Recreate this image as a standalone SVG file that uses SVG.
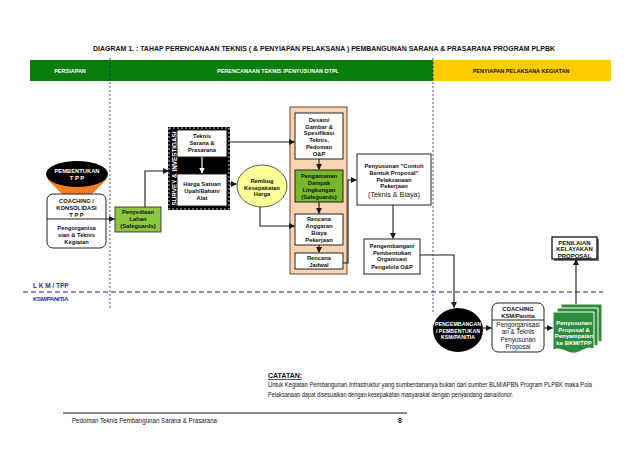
<svg xmlns="http://www.w3.org/2000/svg" width="638" height="452" viewBox="0 0 638 452">
<defs>
<marker id="ah" markerWidth="6" markerHeight="6" refX="5.5" refY="3" orient="auto" markerUnits="userSpaceOnUse"><path d="M0,0 L6,3 L0,6 z" fill="#1a1a1a"/></marker>
<marker id="ahw" markerWidth="6" markerHeight="6" refX="5.5" refY="3" orient="auto" markerUnits="userSpaceOnUse"><path d="M0,0 L6,3 L0,6 z" fill="#fff"/></marker>
</defs>
<style>
text{font-family:"Liberation Sans",Arial,sans-serif;fill:#111}
.b{font-weight:bold}
.c{text-anchor:middle}
.s6{font-size:5.8px}
.s65{font-size:6.5px}
.w{fill:#fff}
.box{fill:#fff;stroke:#222;stroke-width:1}
.ln{fill:none;stroke:#1a1a1a;stroke-width:1.1;marker-end:url(#ah)}
.dv{fill:none;stroke:#1c1c8c;stroke-width:0.8;stroke-dasharray:2 2}
.lane{fill:#2233a0}
.doc{fill:#2e8b3c;stroke:#fff;stroke-width:1}
</style>
<rect width="638" height="452" fill="#fff"/>

<text x="93" y="51" class="b" font-size="8" textLength="462" lengthAdjust="spacingAndGlyphs">DIAGRAM 1. : TAHAP PERENCANAAN TEKNIS ( &amp; PENYIAPAN PELAKSANA ) PEMBANGUNAN SARANA &amp; PRASARANA PROGRAM PLPBK</text>

<g id="header">
<rect x="30" y="60" width="80" height="21" fill="#0a7d0f"/>
<rect x="110" y="60" width="323" height="21" fill="#0a7d0f"/>
<rect x="433" y="60" width="178" height="21" fill="#ffcc00"/>
<text x="70" y="72.5" class="b c w" font-size="5.5">PERSIAPAN</text>
<text x="278" y="72.5" class="b c w" font-size="5.5">PERENCANAAN TEKNIS /PENYUSUNAN DTPL</text>
<text x="521" y="72.5" class="b c" font-size="5.5">PENYIAPAN PELAKSANA KEGIATAN</text>
</g>

<g id="lanes">
<line x1="110" y1="58" x2="110" y2="308" class="dv"/>
<line x1="433" y1="58" x2="433" y2="312" class="dv"/>
<line x1="23" y1="292" x2="603" y2="292" fill="none" stroke="#1c1c8c" stroke-width="1" stroke-dasharray="5 3"/>
<text x="33" y="288" class="b lane" font-size="6.5">L K M / TPP</text>
<text x="33" y="301" class="b lane" font-size="6" letter-spacing="-0.3">KSM/PANITIA</text>
</g>

<g id="pembentukan">
<polygon points="47,179 107,179 89,197 65,197" fill="#f47b20"/>
<ellipse cx="77" cy="174" rx="31" ry="13" fill="#000"/>
<text x="77" y="173" class="b c w s6">PEMBENTUKAN</text>
<text x="77" y="180" class="b c w s6">T P P</text>
</g>

<g id="coaching-tpp">
<rect x="47" y="194" width="59" height="54" rx="6" class="box"/>
<line x1="47" y1="219" x2="106" y2="219" stroke="#222" stroke-width="1"/>
<text x="76.5" y="203" class="b c s6">COACHING /</text>
<text x="76.5" y="210" class="b c s6">KONSOLIDASI</text>
<text x="76.5" y="216.5" class="b c s6">T P P</text>
<text x="76.5" y="230" class="b c s6">Pengorganisa</text>
<text x="76.5" y="237" class="b c s6">sian &amp; Teknis</text>
<text x="76.5" y="244" class="b c s6">Kegiatan</text>
</g>

<g id="penyediaan">
<rect x="115" y="207" width="46" height="25" fill="#8dc63f" stroke="#222" stroke-width="0.8"/>
<text x="138" y="214" class="b c s6">Penyediaan</text>
<text x="138" y="221" class="b c s6">Lahan</text>
<text x="138" y="228" class="b c s6">(Safeguards)</text>
</g>

<g id="survey">
<rect x="169" y="128" width="60" height="81" fill="#000" stroke="#000" stroke-width="2"/>
<rect x="169" y="128" width="60" height="81" fill="none" stroke="#fff" stroke-width="0.8" stroke-dasharray="2 2"/>
<text transform="translate(176.5,168.5) rotate(-90)" class="b c w" font-size="6.5" textLength="74" lengthAdjust="spacingAndGlyphs">SURVEY &amp; INVESTIGASI</text>
<rect x="177" y="130" width="50" height="27" class="box"/>
<text x="202" y="138" class="b c s6">Teknis</text>
<text x="202" y="145" class="b c s6">Sarana &amp;</text>
<text x="202" y="152" class="b c s6">Prasarana</text>
<rect x="177" y="174" width="50" height="32" class="box"/>
<text x="202" y="186" class="b c s6">Harga Satuan</text>
<text x="202" y="193" class="b c s6">Upah/Bahan/</text>
<text x="202" y="200" class="b c s6">Alat</text>
<line x1="202" y1="157" x2="202" y2="173" stroke="#fff" stroke-width="1.2" marker-end="url(#ahw)"/>
</g>

<g id="rembug">
<ellipse cx="262" cy="186" rx="25" ry="21" fill="#ffff99" stroke="#333" stroke-width="0.8"/>
<text x="262" y="183" class="b c s6">Rembug</text>
<text x="262" y="189.5" class="b c s6">Kesepakatan</text>
<text x="262" y="196" class="b c s6">Harga</text>
</g>

<g id="dtpl">
<rect x="290" y="107" width="57" height="167" fill="#fbd4b4" stroke="#6b4a30" stroke-width="1"/>
<rect x="295" y="113" width="48" height="46" class="box"/>
<text x="319" y="122" class="b c s6">Desain/</text>
<text x="319" y="128.7" class="b c s6">Gambar &amp;</text>
<text x="319" y="135.4" class="b c s6">Spesifikasi</text>
<text x="319" y="142.1" class="b c s6">Teknis,</text>
<text x="319" y="148.8" class="b c s6">Pedoman</text>
<text x="319" y="155.5" class="b c s6">O&amp;P</text>
<rect x="295" y="170" width="48" height="32" fill="#76b82a" stroke="#222" stroke-width="1"/>
<text x="319" y="178" class="b c s6">Pengamanan</text>
<text x="319" y="185" class="b c s6">Dampak</text>
<text x="319" y="192" class="b c s6">Lingkungan</text>
<text x="319" y="199" class="b c s6">(Safeguards)</text>
<rect x="295" y="214" width="48" height="31" class="box"/>
<text x="319" y="221" class="b c s6">Rencana</text>
<text x="319" y="228" class="b c s6">Anggaran</text>
<text x="319" y="235" class="b c s6">Biaya</text>
<text x="319" y="242" class="b c s6">Pekerjaan</text>
<rect x="295" y="253" width="48" height="16" class="box"/>
<text x="319" y="260" class="b c s6">Rencana</text>
<text x="319" y="266.5" class="b c s6">Jadwal</text>
</g>

<g id="penyusunan-contoh">
<rect x="357" y="154" width="74" height="51" class="box"/>
<text x="394" y="168" class="b c s6">Penyusunan "Contoh</text>
<text x="394" y="174.5" class="b c s6">Bentuk Proposal"</text>
<text x="394" y="181.5" class="b c s6">Pelaksanaan</text>
<text x="394" y="188" class="b c s6">Pekerjaan</text>
<text x="394" y="197" class="c" font-size="7.2">(Teknis &amp; Biaya)</text>
</g>

<g id="pengembangan-op">
<rect x="364" y="239" width="56" height="35" class="box"/>
<text x="392" y="248" class="b c s6">Pengembangan/</text>
<text x="392" y="254.5" class="b c s6">Pembentukan</text>
<text x="392" y="261" class="b c s6">Organisasi</text>
<text x="392" y="269" class="b c s6">Pengelola O&amp;P</text>
</g>

<g id="penilaian">
<rect x="554" y="239" width="45" height="22" fill="#777"/>
<rect x="552" y="237" width="45" height="22" fill="#fff" stroke="#111" stroke-width="1.3"/>
<text x="574.5" y="244.5" class="b c" font-family="'Liberation Serif',serif" font-size="6">PENILAIAN</text>
<text x="574.5" y="251" class="b c" font-family="'Liberation Serif',serif" font-size="6">KELAYAKAN</text>
<text x="574.5" y="257.5" class="b c" font-family="'Liberation Serif',serif" font-size="6" text-decoration="underline">PROPOSAL</text>
</g>

<g id="pengembangan-ksm">
<ellipse cx="458" cy="330" rx="25" ry="22" fill="#000"/>
<text x="458" y="326" class="b c w" font-size="5.3">PENGEMBANGAN</text>
<text x="458" y="332.5" class="b c w" font-size="5.3">/ PEMBENTUKAN</text>
<text x="458" y="339" class="b c w" font-size="5.3">KSM/PANITIA</text>
</g>

<g id="coaching-ksm">
<rect x="492" y="303" width="52" height="49" rx="6" class="box"/>
<line x1="492" y1="320" x2="544" y2="320" stroke="#222" stroke-width="1"/>
<text x="518" y="311" class="b c s6">COACHING</text>
<text x="518" y="318" class="b c s6">KSM/Panitia</text>
<text x="518" y="326.5" class="c" font-size="6.3">Pengorganisasi</text>
<text x="518" y="334" class="c" font-size="6.3">an &amp; Teknis</text>
<text x="518" y="341.5" class="c" font-size="6.3">Penyusunan</text>
<text x="518" y="349" class="c" font-size="6.3">Proposal</text>
</g>

<g id="proposal-docs">
<path class="doc" d="M561,304 H602 V342 C596,340 590,346 584,345 L561,345 Z"/>
<path class="doc" d="M557,308 H598 V346 C592,344 586,350 580,349 L557,349 Z"/>
<path class="doc" d="M553,312 H594 V349 C586,345 579,355 571,353 C564,351 559,347 553,350 Z"/>
<text x="574" y="325" class="b c w" font-size="6">Penyusunan</text>
<text x="574" y="331.5" class="b c w" font-size="6">Proposal &amp;</text>
<text x="574" y="338" class="b c w" font-size="6">Penyampaian</text>
<text x="574" y="344.5" class="b c w" font-size="6">ke BKM/TPP</text>
</g>

<g id="connectors">
<path class="ln" d="M106,219 H114.5"/>
<path class="ln" d="M145,207 V171 H168.5"/>
<path class="ln" d="M229,142 H294.5"/>
<path class="ln" d="M228,184 H236.5"/>
<path class="ln" d="M260,207 V226 H294.5"/>
<path class="ln" d="M319,159 V169.5"/>
<path class="ln" d="M319,202 V213.5"/>
<path class="ln" d="M319,245 V252.5"/>
<path class="ln" d="M343,263 H348 V180 H356.5"/>
<path class="ln" d="M393,205 V238.5"/>
<path class="ln" d="M420,255 H454 V307.5"/>
<path class="ln" d="M483,328 H491.5"/>
<path class="ln" d="M544,328 H552.5"/>
<path class="ln" d="M576,304 V259.5"/>
</g>

<g id="notes">
<text x="268" y="378" class="b" font-size="7" text-decoration="underline">CATATAN:</text>
<text x="268" y="387" font-size="6.3" textLength="324" lengthAdjust="spacingAndGlyphs">Untuk Kegiatan Pembangunan Infrastruktur yang sumberdananya bukan dari sumber BLM/APBN Program PLPBK maka Pola</text>
<text x="268" y="397" font-size="6.3" textLength="245" lengthAdjust="spacingAndGlyphs">Pelaksanaan dapat disesuaikan dengan kesepakatan masyarakat dengan penyandang dana/donor.</text>
</g>

<g id="footer">
<line x1="63" y1="413" x2="407" y2="413" stroke="#111" stroke-width="1"/>
<text x="72" y="423" font-size="6.5" textLength="145" lengthAdjust="spacingAndGlyphs">Pedoman Teknis Pembangunan Sarana &amp; Prasarana</text>
<text x="398" y="423" class="b" font-size="7">8</text>
</g>
</svg>
